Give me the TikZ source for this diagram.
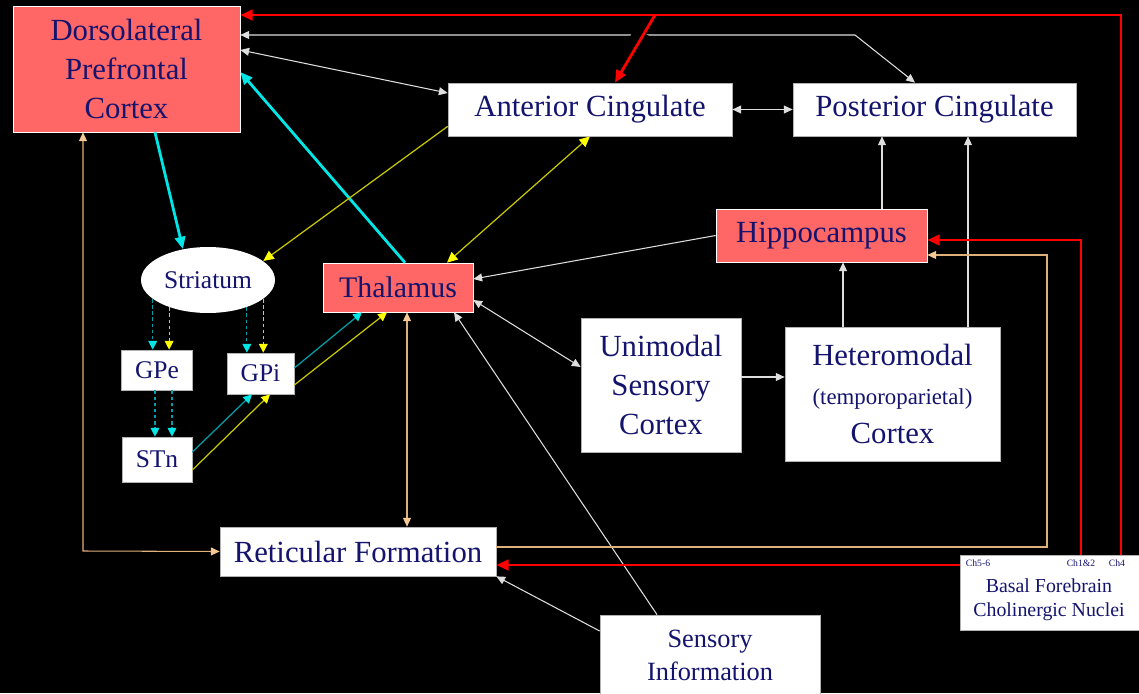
\documentclass[tikz,border=0pt]{standalone}
\usepackage{fontspec}
\setmainfont{Liberation Serif}
\usepackage{tikz}
\usetikzlibrary{shapes.geometric, arrows.meta, positioning}

\definecolor{navytext}{RGB}{20,20,110}
\definecolor{salmon}{RGB}{255,102,102}
\definecolor{wline}{RGB}{222,222,222}
\definecolor{tanline}{RGB}{222,176,122}
\definecolor{tanhead}{RGB}{245,200,150}
\definecolor{cyanbright}{RGB}{0,230,230}
\definecolor{cyandark}{RGB}{0,160,170}
\definecolor{yellowbright}{RGB}{255,255,0}
\definecolor{yellowdark}{RGB}{200,200,0}

\tikzset{
  box/.style={draw=gray!60, fill=white, text=navytext, inner sep=0pt, align=center, font=\fontsize{17.5}{22}\selectfont},
  hotbox/.style={box, draw=white, fill=salmon},
  small/.style={font=\fontsize{14.5}{18}\selectfont},
  warrow/.style={draw=wline, line width=0.6pt, -{Triangle[length=5pt,width=4.5pt]}},
  wboth/.style={draw=wline, line width=0.6pt, {Triangle[length=5pt,width=4.5pt]}-{Triangle[length=5pt,width=4.5pt]}},
  tanarrow/.style={draw=tanline, line width=0.6pt, -{Triangle[length=5pt,width=4.5pt,color=tanhead]}},
  tanboth/.style={draw=tanline, line width=0.6pt, {Triangle[length=5pt,width=4.5pt,color=tanhead]}-{Triangle[length=5pt,width=4.5pt,color=tanhead]}},
  redarrow/.style={draw=red, line width=1.6pt, -{Triangle[length=7pt,width=6pt]}},
  cyanarrow/.style={draw=cyanbright, line width=1.6pt, -{Triangle[length=7pt,width=6pt]}},
  yarrow/.style={draw=yellowdark, line width=0.7pt, -{Triangle[length=6pt,width=5.5pt,color=yellowbright]}},
  yboth/.style={draw=yellowdark, line width=0.7pt, {Triangle[length=6pt,width=5.5pt,color=yellowbright]}-{Triangle[length=6pt,width=5.5pt,color=yellowbright]}},
  cdash/.style={draw=cyandark, line width=0.7pt, dash pattern=on 2pt off 1.5pt, -{Triangle[length=5pt,width=5pt,color=cyanbright]}},
  ydash/.style={draw=yellowbright!85!black, line width=0.7pt, dash pattern=on 2pt off 1.5pt, -{Triangle[length=5pt,width=5pt,color=yellowbright]}},
  cthin/.style={draw=cyandark, line width=0.7pt, -{Triangle[length=5pt,width=5pt,color=cyanbright]}},
  ythin/.style={draw=yellowdark, line width=0.7pt, -{Triangle[length=5pt,width=5pt,color=yellowbright]}},
  chlabel/.style={text=navytext, inner sep=0pt, font=\fontsize{5.5}{6}\selectfont}
}

\begin{document}
\begin{tikzpicture}[x=0.02cm, y=-0.02cm]
        \useasboundingbox (0,0) rectangle (1139,693);
        \fill[black] (0,0) rectangle (1139,693);

        \node[hotbox, minimum width=4.54cm, minimum height=2.52cm] (dlpfc) at (126.5,69) {Dorsolateral\\Prefrontal\\Cortex};
        \node[box, minimum width=5.68cm, minimum height=1.06cm] (antc) at (590,109.5) {Anterior Cingulate};
        \node[box, minimum width=5.66cm, minimum height=1.06cm] (postc) at (934.5,109.5) {Posterior Cingulate};
        \node[ellipse, fill=white, text=navytext, inner sep=0pt, small, minimum width=2.68cm, minimum height=1.32cm] (striatum) at (208,280) {Striatum};
        \node[hotbox, font=\fontsize{17}{21}\selectfont, minimum width=3cm, minimum height=0.98cm] (thal) at (398,287.5) {Thalamus};
        \node[hotbox, minimum width=4.22cm, minimum height=1.06cm] (hippo) at (821.5,235.5) {Hippocampus};
        \node[box, small, minimum width=1.42cm, minimum height=0.8cm] (gpe) at (157,370) {GPe};
        \node[box, small, minimum width=1.34cm, minimum height=0.82cm] (gpi) at (260.5,373.5) {GPi};
        \node[box, small, minimum width=1.4cm, minimum height=0.9cm] (stn) at (157,459.5) {STn};
        \node[box, minimum width=3.2cm, minimum height=2.68cm] (unimodal) at (661,385) {Unimodal\\Sensory\\Cortex};
        \node[box, minimum width=4.3cm, minimum height=2.68cm] (hetero) at (892.5,394) {Heteromodal\\{\fontsize{13}{16}\selectfont(temporoparietal)}\\Cortex};
        \node[box, minimum width=5.52cm, minimum height=0.98cm] (retic) at (358,551.5) {Reticular Formation};
        \node[box, font=\fontsize{15}{18.7}\selectfont, minimum width=4.4cm, minimum height=1.6cm] (sensinfo) at (710,655) {Sensory\\Information};
        \node[box, minimum width=3.6cm, minimum height=1.5cm] (basal) at (1050,592.5) {};
        \node[text=navytext, inner sep=0pt, align=center, font=\fontsize{11.3}{13.6}\selectfont] (basaltxt) at (1049,600) {Basal Forebrain\\Cholinergic Nuclei};
        \node[chlabel] (chfive) at (978,563) {Ch5-6};
        \node[chlabel] (chone) at (1081,563) {Ch1\&2};
        \node[chlabel] (chfour) at (1117,563) {Ch4};

        \coordinate (redtop) at (1121,15);
        \coordinate (redsplit) at (655,15);
        \coordinate (redhip) at (1081,240);
        \coordinate (redret) at (960,565);
        \coordinate (whitetop) at (855,35);
        \coordinate (tanright) at (1047,255);
        \coordinate (tanleft) at (83,551);

        \draw[wboth] (dlpfc.east |- whitetop) -- (whitetop) -- ([xshift=-0.39cm]postc.north);
        \draw[wboth] ([yshift=0.38cm]dlpfc.east) -- ([yshift=0.33cm]antc.west);
        \draw[wboth] (antc) -- (postc);
        \draw[warrow] (hippo.west) -- ([yshift=0.17cm]thal.east);
        \draw[wboth] ([yshift=-0.25cm]thal.east) -- ([yshift=0.36cm]unimodal.west);
        \draw[warrow] ([xshift=-1.06cm]sensinfo.north) -- ([xshift=1.12cm]thal.south);
        \draw[warrow] ([yshift=0.48cm]sensinfo.west) -- (retic.south east);
        \draw[warrow] ([yshift=0.16cm]unimodal.east) coordinate (uni) -- (uni -| hetero.west);
        \draw[warrow] ([xshift=-0.99cm]hetero.north) coordinate (het1) -- (het1 |- hippo.south);
        \draw[warrow] ([xshift=1.51cm]hetero.north) coordinate (het2) -- (het2 |- postc.south);
        \draw[warrow] ([xshift=1.21cm]hippo.north) coordinate (hip1) -- (hip1 |- postc.south);

        \draw[tanboth] ([xshift=0.18cm]thal.south) coordinate (thb) -- (thb |- retic.north);
        \draw[tanarrow] ([yshift=0.09cm]retic.east) -| (tanright) -- (hippo.east |- tanright);
        \draw[tanboth] (dlpfc.south -| tanleft) -- (tanleft) -- (retic.west);

        \draw[cyanarrow] ([xshift=0.57cm]dlpfc.south) -- (striatum.129);
        \draw[cyanarrow] ([xshift=0.14cm]thal.north) -- ([yshift=-0.06cm]dlpfc.east);
        \draw[yarrow] ([yshift=0.2cm]antc.south west) -- (striatum.19);
        \draw[yboth] (antc.south) -- ([xshift=0.98cm]thal.north);

        \draw[cdash] (striatum.199) -- (gpe.north -| striatum.199);
        \draw[ydash] (striatum.215) -- (gpe.north -| striatum.215);
        \draw[cdash] (striatum.325) -- (gpi.north -| striatum.325);
        \draw[ydash] (striatum.341) -- (gpi.north -| striatum.341);
        \draw[cdash] ([xshift=-0.04cm]gpe.south) coordinate (gp1) -- (gp1 |- stn.north);
        \draw[cdash] ([xshift=0.3cm]gpe.south) coordinate (gp2) -- (gp2 |- stn.north);
        \draw[cthin] ([yshift=0.15cm]stn.east) -- ([xshift=-0.17cm]gpi.south);
        \draw[ythin] ([yshift=-0.21cm]stn.east) -- ([xshift=0.19cm]gpi.south);
        \draw[cthin] ([yshift=0.11cm]gpi.east) -- ([xshift=-0.72cm]thal.south);
        \draw[ythin] ([yshift=-0.23cm]gpi.east) -- ([xshift=-0.22cm]thal.south);

        \draw[black, line width=12pt, shorten <=12pt, shorten >=14pt] (redsplit) -- ([xshift=0.5cm]antc.north);
        \draw[redarrow] (basal.north -| redtop) -- (redtop) -- (dlpfc.east |- redtop);
        \draw[redarrow] (redsplit) -- ([xshift=0.5cm]antc.north);
        \draw[redarrow] (basal.north -| redhip) -- (redhip) -- (hippo.east |- redhip);
        \draw[redarrow] (basal.west |- redret) -- (retic.east |- redret);
    \end{tikzpicture}
\end{document}
